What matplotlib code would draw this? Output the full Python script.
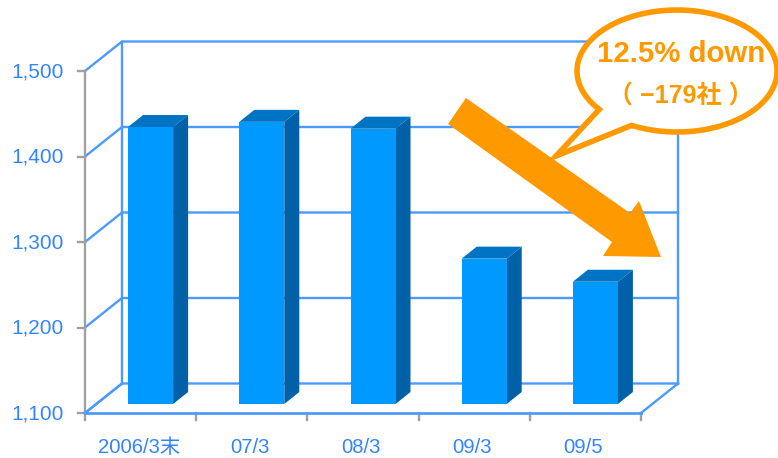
import numpy as np
import matplotlib
matplotlib.use('Agg')
import matplotlib.pyplot as plt
from matplotlib.patches import Polygon

categories = ['2006/3末', '07/3', '08/3', '09/3', '09/5']
values = [1424, 1430, 1422, 1270, 1243]
yticks = [1100, 1200, 1300, 1400, 1500]
ytick_labels = ['1,100', '1,200', '1,300', '1,400', '1,500']

W, H = 778, 458
# pixels per category / per unit
px_x = 111.2
px_y = 342.0 / 400
left, floor_y = 85, 413

BLUE_LINE = '#4d9aff'
BLUE_TEXT = '#3385ff'
GREY = '#a0a0a0'
ORANGE = '#ff9900'

fig = plt.figure(figsize=(W / 100, H / 100), dpi=100, facecolor='white')
ax = fig.add_axes([0, 0, 1, 1])
ax.set_xlim(-left / px_x, (W - left) / px_x)
ax.set_ylim(1100 - (H - floor_y) / px_y, 1100 + floor_y / px_y)
ax.axis('off')

# depth of the fake 3d box and of the bars, in data units
wall_dx, wall_dy = 37 / px_x, 29.5 / px_y
bar_dx, bar_dy = 15 / px_x, 12 / px_y
shift_dx, shift_dy = 10 / px_x, 9 / px_y
bar_w = 45 / px_x
n = len(categories)

# walls and gridlines
for t in yticks:
    ax.plot([0, wall_dx, n + wall_dx], [t, t + wall_dy, t + wall_dy],
            color=BLUE_LINE, lw=1.7, zorder=2, solid_joinstyle='miter')
ax.plot([wall_dx, wall_dx], [1100 + wall_dy, 1500 + wall_dy], color=BLUE_LINE, lw=1.7, zorder=2)
ax.plot([n + wall_dx] * 2, [1100 + wall_dy, 1500 + wall_dy], color=BLUE_LINE, lw=1.7, zorder=2)

# grey axis and ticks
ax.plot([0, 0], [1100, 1500], color=GREY, lw=1.7, zorder=3)
for t in yticks:
    ax.plot([-7 / px_x, 0], [t, t], color=GREY, lw=1.7, zorder=3)
for i in range(n + 1):
    ax.plot([i, i], [1100, 1100 - 7 / px_y], color=GREY, lw=1.7, zorder=3)
ax.plot([0, n], [1100, 1100], color=BLUE_LINE, lw=2, zorder=4)
ax.plot([n, n + wall_dx], [1100, 1100 + wall_dy], color=BLUE_LINE, lw=1.7, zorder=4)
ax.plot([0, wall_dx], [1100, 1100 + wall_dy], color=BLUE_LINE, lw=1.7, zorder=4)

# bars: front from ax.bar, side and top as polygons
xs = np.arange(n) + 0.5 + shift_dx
base = 1100 + shift_dy
ax.bar(xs, [v - 1100 for v in values], width=bar_w, bottom=base,
       color='#0099ff', zorder=6, linewidth=0)
for x, v in zip(xs, values):
    top = base + v - 1100
    x0, x1 = x - bar_w / 2, x + bar_w / 2
    ax.add_patch(Polygon([(x1, base), (x1 + bar_dx, base + bar_dy), (x1 + bar_dx, top + bar_dy), (x1, top)],
                         closed=True, fc='#0060a8', ec='none', zorder=5))
    ax.add_patch(Polygon([(x0, top), (x0 + bar_dx, top + bar_dy), (x1 + bar_dx, top + bar_dy), (x1, top)],
                         closed=True, fc='#0074c4', ec='none', zorder=5))

# tick labels
for t, lab in zip(yticks, ytick_labels):
    ax.text(-21 / px_x, t - 1, lab, ha='right', va='center', fontsize=15,
            color=BLUE_TEXT, family='Liberation Sans')
for i, lab in enumerate(categories):
    ax.text(i + 0.5 - 2 / px_x, 1100 - 34 / px_y, lab, ha='center', va='center', fontsize=14.6,
            color=BLUE_TEXT, family=['Liberation Sans', 'Noto Sans CJK JP'])

# callout drawn in pixel coordinates on top of the chart
over = fig.add_axes([0, 0, 1, 1])
over.set_xlim(0, W)
over.set_ylim(H, 0)
over.axis('off')
over.patch.set_alpha(0)

arrow = [(466, 98), (448, 124), (612, 242), (603, 256), (661, 257), (639, 201), (630, 213)]
over.add_patch(Polygon(arrow, closed=True, fc=ORANGE, ec='none', zorder=7))

cx, cy, rx, ry = 677, 71, 100, 61
ang = np.radians(np.arange(0, 360, 3))
# angles run clockwise on screen; the tail is cut in between about 119 and 140 degrees
keep_a = ang[ang >= np.radians(141)]
keep_b = ang[ang <= np.radians(118)]
outline = [(cx + rx * np.cos(a), cy + ry * np.sin(a)) for a in keep_b]
outline.append((556, 156))
outline += [(cx + rx * np.cos(a), cy + ry * np.sin(a)) for a in keep_a]
over.add_patch(Polygon(outline, closed=True, fc='white', ec=ORANGE, lw=4, zorder=8,
                       joinstyle='miter'))

over.text(681, 54, '12.5% down', ha='center', va='center', fontsize=21.2, fontweight='bold',
          color=ORANGE, family='Liberation Sans', zorder=9)
over.text(681, 97, '（ −179社 ）', ha='center', va='center', fontsize=18, fontweight='bold',
          color=ORANGE, family=['Liberation Sans', 'Noto Sans CJK JP'], zorder=9)

fig.savefig('out.png', dpi=100, facecolor='white')
